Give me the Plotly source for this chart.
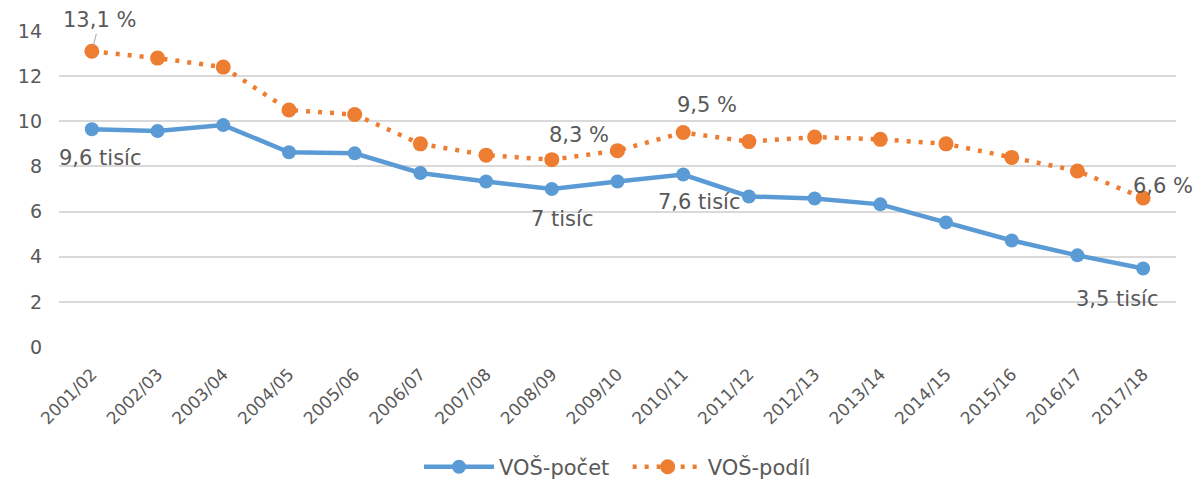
import plotly.graph_objects as go

years = ["2001/02", "2002/03", "2003/04", "2004/05", "2005/06", "2006/07", "2007/08",
         "2008/09", "2009/10", "2010/11", "2011/12", "2012/13", "2013/14", "2014/15",
         "2015/16", "2016/17", "2017/18"]
pocet = [9.65, 9.57, 9.83, 8.63, 8.58, 7.71, 7.33, 7.0, 7.33, 7.64, 6.67, 6.58, 6.32,
         5.52, 4.72, 4.06, 3.48]
podil = [13.1, 12.8, 12.4, 10.5, 10.3, 9.0, 8.5, 8.3, 8.7, 9.5, 9.1, 9.3, 9.2, 9.0,
         8.4, 7.8, 6.6]

BLUE = "#5B9BD5"
ORANGE = "#ED7D31"
GRAY = "#595959"
FONT = "DejaVu Sans"

fig = go.Figure()
fig.add_trace(go.Scatter(x=years, y=pocet, name="VOŠ-počet\u00a0\u00a0", mode="lines+markers",
                         line=dict(color=BLUE, width=4.5),
                         marker=dict(color=BLUE, size=14)))
fig.add_trace(go.Scatter(x=years, y=podil, name="VOŠ-podíl", mode="lines+markers",
                         line=dict(color=ORANGE, width=4.5, dash="4px,8px"),
                         marker=dict(color=ORANGE, size=15)))

labels = [
    (years[0], podil[0], "13,1 %", 8, -31, True),
    (years[0], pocet[0], "9,6 tisíc", 8, 29, False),
    (years[7], podil[7], "8,3 %", 27, -25, False),
    (years[7], pocet[7], "7 tisíc", 10, 30, False),
    (years[9], podil[9], "9,5 %", 24, -28, False),
    (years[9], pocet[9], "7,6 tisíc", 16, 27, False),
    (years[16], podil[16], "6,6 %", 20, -12, False),
    (years[16], pocet[16], "3,5 tisíc", -26, 31, False),
]
for x, y, t, ax, ay, arrow in labels:
    if arrow:
        fig.add_annotation(x=x, y=y, text=t, showarrow=True, ax=ax, ay=ay,
                           arrowhead=0, arrowwidth=1, arrowcolor="#A6A6A6",
                           standoff=5, font=dict(family=FONT, size=21, color=GRAY))
    else:
        fig.add_annotation(x=x, y=y, text=t, showarrow=False, xshift=ax, yshift=-ay,
                           font=dict(family=FONT, size=21, color=GRAY))

fig.update_layout(
    width=1198, height=480,
    margin=dict(l=59, r=22, t=31, b=133, autoexpand=False),
    paper_bgcolor="white", plot_bgcolor="white",
    font=dict(family=FONT, color=GRAY, size=17),
    showlegend=True,
    legend=dict(orientation="h", x=0.5, xanchor="center", y=-0.380, yanchor="middle",
                font=dict(family=FONT, size=21, color=GRAY), itemwidth=70),
    xaxis=dict(type="category", tickangle=-45, showgrid=False, ticks="",
               tickfont=dict(family=FONT, size=17, color=GRAY), showline=False,
               range=[-0.5, 16.5], automargin=False, ticklabelstandoff=13),
    yaxis=dict(range=[0, 14], dtick=2, showgrid=True, gridcolor="#D9D9D9", gridwidth=1.5,
               zeroline=False, showline=False, ticks="", automargin=False,
               ticklabelstandoff=16,
               tickfont=dict(family=FONT, size=19, color=GRAY)),
)

fig.write_html("out.html", config={"displayModeBar": False},
               post_script="document.body.style.margin='0';document.body.style.overflow='hidden';")
